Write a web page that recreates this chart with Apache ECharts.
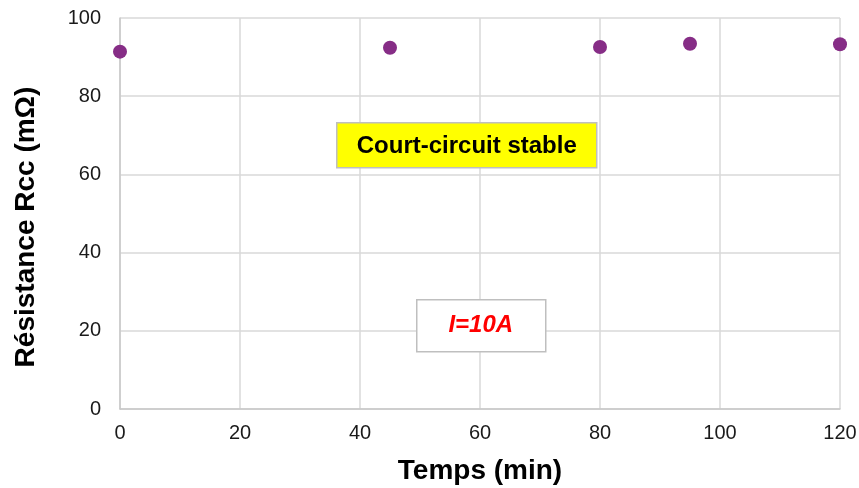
<!DOCTYPE html>
<html><head><meta charset="utf-8">
<script src="https://cdn.jsdelivr.net/npm/echarts@6/dist/echarts.min.js"></script>
<style>html,body{margin:0;padding:0;background:#fff}#c{width:859px;height:488px}</style>
</head><body><div id="c"></div>
<script>
const timeMin = [0, 45, 80, 95, 120];
const resistance = [91.4, 92.4, 92.6, 93.4, 93.3];
const xTicks = [0, 20, 40, 60, 80, 100, 120];
const yTicks = [0, 20, 40, 60, 80, 100];
const xTitle = 'Temps (min)';
const yTitle = 'Résistance Rcc (mΩ)';
const note1 = 'Court-circuit stable';
const note2 = 'I=10A';

const FONT = '"Liberation Sans", Arial, sans-serif';
const chart = echarts.init(document.getElementById('c'), null, {renderer: 'canvas'});
chart.setOption({
  animation: false,
  grid: {left: 120, right: 19, top: 18, bottom: 79, containLabel: false, outerBoundsMode: 'none'},
  xAxis: {
    type: 'value', min: xTicks[0], max: xTicks[xTicks.length-1], interval: 20,
    name: xTitle, nameLocation: 'middle', nameGap: 48,
    nameTextStyle: {fontFamily: FONT, fontSize: 28, fontWeight: 'bold', color: '#000'},
    axisLine: {show: true, lineStyle: {color: '#c8c8c8', width: 1.5}},
    axisTick: {show: false},
    axisLabel: {fontFamily: FONT, fontSize: 20, color: '#1a1a1a', margin: 14},
    splitLine: {show: true, lineStyle: {color: '#d9d9d9', width: 1.5}}
  },
  yAxis: {
    type: 'value', min: yTicks[0], max: yTicks[yTicks.length-1], interval: 20,
    axisLine: {show: true, lineStyle: {color: '#c8c8c8', width: 1.5}},
    axisTick: {show: false},
    axisLabel: {fontFamily: FONT, fontSize: 20, color: '#1a1a1a', margin: 19},
    splitLine: {show: true, lineStyle: {color: '#d9d9d9', width: 1.5}}
  },
  series: [{
    type: 'scatter',
    data: timeMin.map((t, i) => [t, resistance[i]]),
    symbol: 'circle', symbolSize: 14,
    itemStyle: {color: '#862d86', opacity: 1},
    z: 5
  }],
  graphic: [
    {type: 'text', x: 26, y: 227, rotation: Math.PI / 2, z: 100,
     style: {text: yTitle, fill: '#000', font: 'bold 28px ' + FONT, align: 'center', verticalAlign: 'middle'}},
    {type: 'group', left: 336, top: 122, z: 100, children: [
      {type: 'rect', z: 100, shape: {x: 0, y: 0, width: 260, height: 45},
       style: {fill: '#ffff00', stroke: '#bfbfbf', lineWidth: 1.5}},
      {type: 'text', z: 101, x: 130, y: 24, style: {text: note1, fill: '#000', font: 'bold 24px ' + FONT, align: 'center', verticalAlign: 'middle'}}
    ]},
    {type: 'group', left: 416, top: 299, z: 100, children: [
      {type: 'rect', z: 100, shape: {x: 0, y: 0, width: 129, height: 52},
       style: {fill: '#ffffff', stroke: '#bfbfbf', lineWidth: 1.5}},
      {type: 'text', z: 101, x: 64, y: 26, style: {text: note2, fill: '#ff0000', font: 'italic bold 24px ' + FONT, align: 'center', verticalAlign: 'middle'}}
    ]}
  ]
});
</script></body></html>
